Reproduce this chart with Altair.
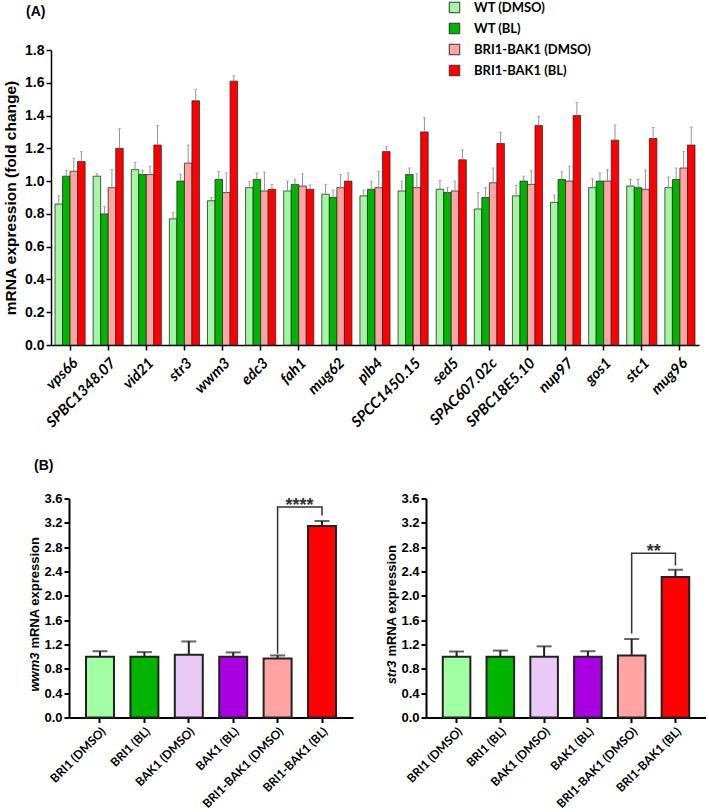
import altair as alt
import pandas as pd

# ---------------- Panel A: fold change of 17 genes ----------------
genes = ["vps66", "SPBC1348.07", "vid21", "str3", "wwm3", "edc3", "fah1", "mug62",
         "plb4", "SPCC1450.15", "sed5", "SPAC607.02c", "SPBC18E5.10", "nup97",
         "gos1", "stc1", "mug96"]
groups = ["WT (DMSO)", "WT (BL)", "BRI1-BAK1 (DMSO)", "BRI1-BAK1 (BL)"]
group_colors = ["#a3f7a3", "#00b400", "#ffa3a3", "#ff0000"]

wt_dmso = [0.86, 1.03, 1.07, 0.77, 0.88, 0.96, 0.94, 0.92, 0.91, 0.94, 0.95, 0.83, 0.91, 0.87, 0.96, 0.97, 0.96]
wt_dmso_err = [0.05, 0.015, 0.045, 0.04, 0.02, 0.04, 0.06, 0.06, 0.035, 0.06, 0.055, 0.10, 0.065, 0.045, 0.055, 0.04, 0.065]
wt_bl = [1.03, 0.80, 1.04, 1.00, 1.01, 1.01, 0.98, 0.90, 0.95, 1.04, 0.93, 0.90, 1.00, 1.01, 1.00, 0.96, 1.01]
wt_bl_err = [0.035, 0.045, 0.026, 0.04, 0.05, 0.04, 0.032, 0.045, 0.05, 0.04, 0.03, 0.06, 0.03, 0.047, 0.05, 0.05, 0.07]
bb_dmso = [1.06, 0.96, 1.04, 1.11, 0.93, 0.94, 0.97, 0.96, 0.96, 0.96, 0.94, 0.99, 0.98, 1.00, 1.00, 0.95, 1.08]
bb_dmso_err = [0.08, 0.11, 0.05, 0.11, 0.12, 0.115, 0.075, 0.08, 0.10, 0.085, 0.06, 0.09, 0.083, 0.09, 0.07, 0.117, 0.10]
bb_bl = [1.12, 1.20, 1.22, 1.49, 1.61, 0.95, 0.95, 1.00, 1.18, 1.30, 1.13, 1.23, 1.34, 1.40, 1.25, 1.26, 1.22]
bb_bl_err = [0.06, 0.12, 0.12, 0.07, 0.032, 0.03, 0.027, 0.05, 0.03, 0.087, 0.06, 0.067, 0.055, 0.08, 0.093, 0.067, 0.11]

rows = []
for grp, vals, errs in zip(groups,
                           [wt_dmso, wt_bl, bb_dmso, bb_bl],
                           [wt_dmso_err, wt_bl_err, bb_dmso_err, bb_bl_err]):
    for g, v, e in zip(genes, vals, errs):
        rows.append({"gene": g, "group": grp, "value": v, "upper": v + e})
top_df = pd.DataFrame(rows)

# ---------------- Panel B: wwm3 and str3 ----------------
strains = ["BRI1 (DMSO)", "BRI1 (BL)", "BAK1 (DMSO)", "BAK1 (BL)",
           "BRI1-BAK1 (DMSO)", "BRI1-BAK1 (BL)"]
strain_colors = ["#a3ffa3", "#00b400", "#ebc9f7", "#a800e0", "#ffa3a3", "#ff0000"]

wwm3_vals = [1.00, 1.00, 1.03, 1.00, 0.97, 3.15]
wwm3_err = [0.09, 0.075, 0.22, 0.07, 0.05, 0.08]
str3_vals = [1.00, 1.00, 1.00, 1.00, 1.02, 2.31]
str3_err = [0.085, 0.10, 0.17, 0.09, 0.27, 0.12]

# significance brackets: left leg bottom, top, top, right leg bottom
wwm3_bracket = [1.05, 3.46, 3.46, 3.32]
str3_bracket = [1.38, 2.70, 2.70, 2.50]
bracket_cats = ["BRI1-BAK1 (DMSO)", "BRI1-BAK1 (DMSO)", "BRI1-BAK1 (BL)", "BRI1-BAK1 (BL)"]

y_ticks_a = [0.0, 0.2, 0.4, 0.6, 0.8, 1.0, 1.2, 1.4, 1.6, 1.8]
y_ticks_b = [0.0, 0.4, 0.8, 1.2, 1.6, 2.0, 2.4, 2.8, 3.2, 3.6]

NUM_FONT = "Liberation Sans"
LAB_FONT = "Lato"


def panel_label(text, dx, dy):
    """Bold panel letter drawn just outside the top-left corner of a plot."""
    return alt.Chart(pd.DataFrame({"t": [text]})).mark_text(
        align="left", baseline="middle", font=NUM_FONT, fontSize=14,
        fontWeight="bold", color="black").encode(
        x=alt.value(dx), y=alt.value(dy), text="t:N")


# ---------------- Panel A chart ----------------
x_top = alt.X(
    "gene:N", sort=genes, title=None,
    scale=alt.Scale(paddingInner=0.21, paddingOuter=0.105),
    axis=alt.Axis(labelAngle=-45, labelAlign="right", labelBaseline="top",
                  labelFont=LAB_FONT, labelFontStyle="italic", labelFontWeight="bold",
                  labelFontSize=15, labelColor="black", labelPadding=5,
                  labelOverlap=False,
                  tickColor="black", tickSize=5, tickWidth=1.5,
                  domainColor="black", domainWidth=1.5),
)
xo_top = alt.XOffset("group:N", sort=groups, scale=alt.Scale(paddingInner=0, paddingOuter=0))
y_top = alt.Y(
    "value:Q",
    scale=alt.Scale(domain=[0, 1.8], nice=False),
    axis=alt.Axis(values=y_ticks_a, tickCount=len(y_ticks_a), format=".1f",
                  title="mRNA expression (fold change)",
                  titleFont=NUM_FONT, titleFontSize=15.5, titleFontWeight="bold",
                  titleColor="black", titlePadding=6,
                  labelFont=NUM_FONT, labelFontSize=14, labelFontWeight="bold",
                  labelColor="black", labelPadding=2, labelOverlap=False,
                  tickColor="black", tickSize=5, tickWidth=1.5,
                  domainColor="black", domainWidth=1.5, grid=False),
)

base_top = alt.Chart(top_df)
bars_top = base_top.mark_bar(stroke="#2b2b2b", strokeWidth=0.8).encode(
    x=x_top, xOffset=xo_top, y=y_top,
    color=alt.Color(
        "group:N", sort=groups,
        scale=alt.Scale(domain=groups, range=group_colors),
        legend=alt.Legend(title=None, orient="none", legendX=397, legendY=-49,
                          symbolType="square", symbolSize=110,
                          symbolStrokeColor="#333333", symbolStrokeWidth=1,
                          labelFont=LAB_FONT, labelFontWeight="bold", labelFontSize=13,
                          labelColor="black", rowPadding=6, labelOffset=13, padding=0),
    ),
)
err_top = base_top.mark_rule(color="#939393", strokeWidth=1).encode(
    x=x_top, xOffset=xo_top, y="value:Q", y2="upper:Q")
cap_top = base_top.mark_tick(color="#939393", thickness=1, size=3).encode(
    x=x_top, xOffset=xo_top, y="upper:Q")

top = alt.layer(bars_top, err_top, cap_top, panel_label("(A)", -25, -38)).properties(
    width=648, height=295)


# ---------------- Panel B charts ----------------
def expression_panel(vals, errs, bracket, stars, gene, width, split_y, letter=None):
    df = pd.DataFrame({"strain": strains, "value": vals,
                       "upper": [v + e for v, e in zip(vals, errs)]})
    br = pd.DataFrame({"strain": bracket_cats, "y": bracket, "k": [0, 1, 2, 3]})
    st = pd.DataFrame({"strain": [bracket_cats[0]], "y": [bracket[1]], "label": [stars]})

    x = alt.X(
        "strain:N", sort=strains, title=None,
        scale=alt.Scale(paddingInner=0.37, paddingOuter=0.383),
        axis=alt.Axis(labelAngle=-45, labelAlign="right", labelBaseline="top",
                      labelFont=LAB_FONT, labelFontWeight="bold", labelFontSize=12,
                      labelColor="black", labelPadding=3, labelOverlap=False,
                      tickColor="black", tickSize=5, tickWidth=2,
                      domainColor="black", domainWidth=2),
    )
    y = alt.Y(
        "value:Q", scale=alt.Scale(domain=[0, 3.6], nice=False),
        axis=alt.Axis(values=y_ticks_b, tickCount=len(y_ticks_b), format=".1f", title=None,
                      labelFont=NUM_FONT, labelFontSize=13, labelFontWeight="bold",
                      labelColor="black", labelPadding=2, labelOverlap=False,
                      tickColor="black", tickSize=5, tickWidth=2,
                      domainColor="black", domainWidth=2, grid=False),
    )
    base = alt.Chart(df)
    bars = base.mark_bar(stroke="#222222", strokeWidth=2).encode(
        x=x, y=y,
        color=alt.Color("strain:N", sort=strains,
                        scale=alt.Scale(domain=strains, range=strain_colors), legend=None),
    )
    err = base.mark_rule(color="#222222", strokeWidth=2).encode(x=x, y="value:Q", y2="upper:Q")
    cap = base.mark_tick(color="#222222", thickness=2, size=15).encode(x=x, y="upper:Q")
    bracket_line = alt.Chart(br).mark_line(color="#333333", strokeWidth=1.5).encode(
        x=x, y=alt.Y("y:Q"), order="k:O")
    star_text = alt.Chart(st).mark_text(
        dx=22, dy=-1, baseline="middle", align="center", font=NUM_FONT,
        fontSize=18, fontWeight="bold", color="#333333").encode(
        x=x, y=alt.Y("y:Q"), text="label:N")

    # y-axis title: italic gene name followed by plain text, reading bottom to top
    gene_part = alt.Chart(pd.DataFrame({"t": [gene]})).mark_text(
        angle=270, align="right", baseline="middle", font=NUM_FONT, fontSize=13,
        fontWeight="bold", fontStyle="italic", color="black").encode(
        x=alt.value(-34), y=alt.value(split_y + 2), text="t:N")
    rest_part = alt.Chart(pd.DataFrame({"t": ["mRNA expression"]})).mark_text(
        angle=270, align="left", baseline="middle", font=NUM_FONT, fontSize=13,
        fontWeight="bold", color="black").encode(
        x=alt.value(-34), y=alt.value(split_y - 2), text="t:N")

    layers = [bars, err, cap, bracket_line, star_text, gene_part, rest_part]
    if letter is not None:
        layers.append(panel_label(letter, -35, -33))
    return alt.layer(*layers).properties(width=width, height=219)


left = expression_panel(wwm3_vals, wwm3_err, wwm3_bracket, "****", "wwm3", 284, 152, "(B)")
right = expression_panel(str3_vals, str3_err, str3_bracket, "**", "str3", 280, 160)

spacer = alt.Chart(pd.DataFrame({"s": [0]})).mark_point(opacity=0).encode(
    x=alt.value(0), y=alt.value(0)).properties(width=18, height=10)

inner = alt.hconcat(left, right, spacing=73, bounds="flush").resolve_scale(
    color="independent", x="independent", y="independent")
bottom = alt.hconcat(spacer, inner, spacing=0, bounds="flush").resolve_scale(
    color="independent")

chart = alt.vconcat(top, bottom, spacing=153.5, bounds="flush").resolve_scale(
    color="independent", x="independent", y="independent"
).resolve_legend(color="independent").properties(
    padding={"left": 3, "top": 1, "right": 0, "bottom": 5}
).configure_view(stroke=None)

chart.save("out.html", embed_options={"renderer": "svg", "actions": False})
